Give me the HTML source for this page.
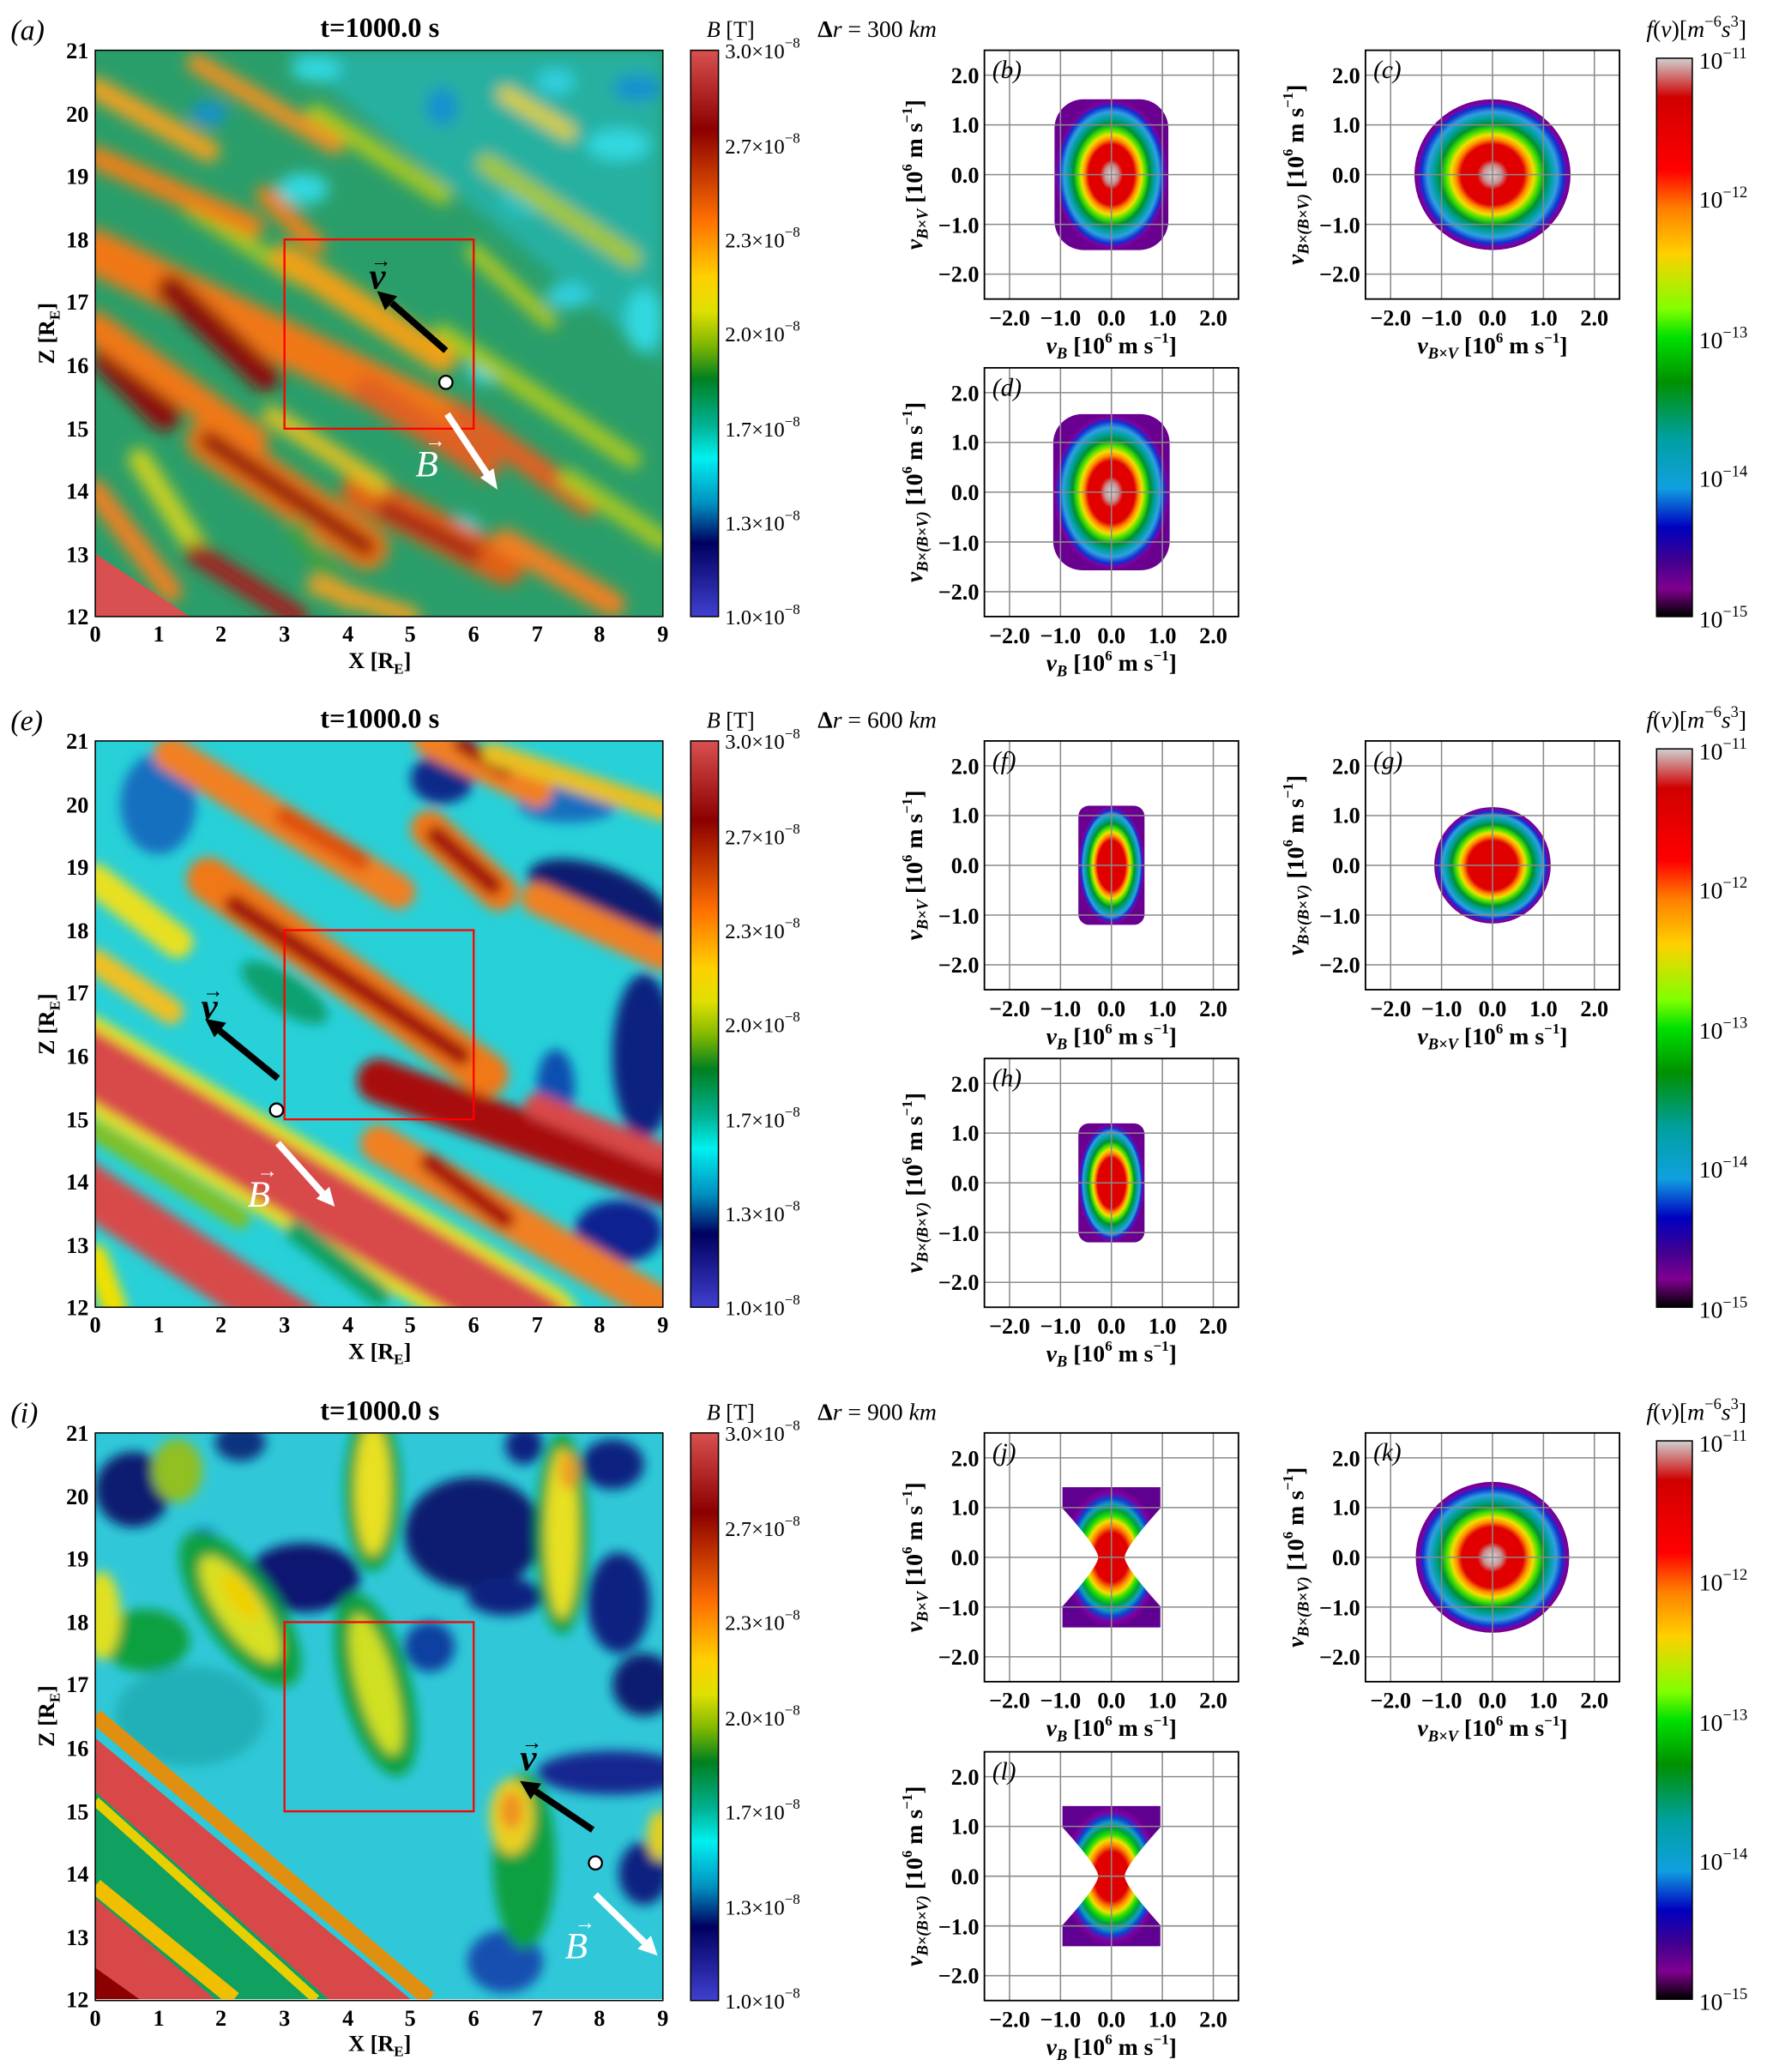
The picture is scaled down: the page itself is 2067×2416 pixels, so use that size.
<!DOCTYPE html>
<html><head><meta charset="utf-8"><style>html,body{margin:0;padding:0;background:#fff}svg{display:block}text{font-family:"Liberation Serif",serif;fill:#000}</style></head><body>
<svg width="2067" height="2416" viewBox="0 0 1340 1566" preserveAspectRatio="none" xmlns="http://www.w3.org/2000/svg">
<defs>
<filter id="bl" x="-10%" y="-10%" width="120%" height="120%"><feGaussianBlur stdDeviation="0.12"/></filter>
<filter id="bl2" x="-10%" y="-10%" width="120%" height="120%"><feGaussianBlur stdDeviation="0.09"/></filter>
<clipPath id="cp"><rect x="0" y="0" width="9" height="9"/></clipPath>
<linearGradient id="cbB" x1="0" y1="0" x2="0" y2="1">
<stop offset="0" stop-color="#d95050"/><stop offset="0.14" stop-color="#8b0000"/><stop offset="0.3" stop-color="#ff7000"/><stop offset="0.4" stop-color="#ffd000"/><stop offset="0.46" stop-color="#e0e000"/><stop offset="0.52" stop-color="#80b800"/><stop offset="0.58" stop-color="#008020"/><stop offset="0.66" stop-color="#00b090"/><stop offset="0.72" stop-color="#00f0f0"/><stop offset="0.8" stop-color="#0090c0"/><stop offset="0.87" stop-color="#000060"/><stop offset="1" stop-color="#4040d0"/></linearGradient>
<linearGradient id="cbF" x1="0" y1="0" x2="0" y2="1">
<stop offset="0" stop-color="#d0d0d0"/><stop offset="0.07" stop-color="#d00000"/><stop offset="0.2" stop-color="#ff0000"/><stop offset="0.27" stop-color="#ff8000"/><stop offset="0.35" stop-color="#ffd000"/><stop offset="0.45" stop-color="#80ff00"/><stop offset="0.5" stop-color="#00e000"/><stop offset="0.58" stop-color="#009000"/><stop offset="0.68" stop-color="#00a0a0"/><stop offset="0.77" stop-color="#10a0e0"/><stop offset="0.84" stop-color="#0000c0"/><stop offset="0.9" stop-color="#400090"/><stop offset="0.95" stop-color="#800090"/><stop offset="1" stop-color="#000000"/></linearGradient>
<radialGradient id="gA"><stop offset="0" stop-color="#d8d8d8"/><stop offset="0.12" stop-color="#c89090"/><stop offset="0.2" stop-color="#e00000"/><stop offset="0.4" stop-color="#e00000"/><stop offset="0.47" stop-color="#ff9000"/><stop offset="0.53" stop-color="#f0e000"/><stop offset="0.6" stop-color="#40e000"/><stop offset="0.67" stop-color="#009030"/><stop offset="0.75" stop-color="#00a0a0"/><stop offset="0.83" stop-color="#30a0e0"/><stop offset="0.91" stop-color="#1030d0"/><stop offset="0.96" stop-color="#8000a0"/><stop offset="1" stop-color="#6a0090"/></radialGradient>
<radialGradient id="gB"><stop offset="0" stop-color="#e00000"/><stop offset="0.42" stop-color="#e00000"/><stop offset="0.5" stop-color="#ff9000"/><stop offset="0.56" stop-color="#f0e000"/><stop offset="0.63" stop-color="#40e000"/><stop offset="0.7" stop-color="#009030"/><stop offset="0.78" stop-color="#00a0a0"/><stop offset="0.86" stop-color="#30a0e0"/><stop offset="0.92" stop-color="#1030d0"/><stop offset="0.97" stop-color="#8000a0"/><stop offset="1" stop-color="#6a0090"/></radialGradient>
<radialGradient id="gH"><stop offset="0" stop-color="#e00000"/><stop offset="0.35" stop-color="#e00000"/><stop offset="0.45" stop-color="#ff9000"/><stop offset="0.52" stop-color="#f0e000"/><stop offset="0.6" stop-color="#20e000"/><stop offset="0.68" stop-color="#00a040"/><stop offset="0.76" stop-color="#10a0c0"/><stop offset="0.84" stop-color="#1040d0"/><stop offset="0.92" stop-color="#8000a0"/><stop offset="1" stop-color="#600090"/></radialGradient>
</defs>

<!-- ============ HEATMAP (a) ============ -->
<g transform="translate(72,38) scale(47.667,47.556)" clip-path="url(#cp)">
<rect x="0" y="0" width="9" height="9" fill="#2a9e6a"/>
<g filter="url(#bl)" stroke-linecap="round" fill="none">
<polygon points="3,0 9,0 9,5" fill="#28b0a0" stroke="none"/>
<g stroke="none">
<ellipse cx="1.8" cy="1.0" rx="0.3" ry="0.18" fill="#1890d0"/>
<ellipse cx="5.5" cy="0.9" rx="0.25" ry="0.3" fill="#1890d0"/>
<ellipse cx="7.3" cy="0.5" rx="0.3" ry="0.2" fill="#30d0e0"/>
<ellipse cx="8.3" cy="1.5" rx="0.5" ry="0.25" fill="#30d8e0"/>
<ellipse cx="8.6" cy="0.6" rx="0.4" ry="0.2" fill="#1890d0"/>
<ellipse cx="6.2" cy="5.1" rx="0.3" ry="0.2" fill="#30d8e0"/>
<ellipse cx="3.5" cy="0.3" rx="0.4" ry="0.2" fill="#30d8e0"/>
<ellipse cx="7.5" cy="3.9" rx="0.35" ry="0.2" fill="#30d0e0"/>
<ellipse cx="8.7" cy="4.3" rx="0.3" ry="0.5" fill="#30d8e0"/>
<ellipse cx="5.8" cy="7.6" rx="0.3" ry="0.2" fill="#30d0e0"/>
<ellipse cx="3.3" cy="2.2" rx="0.4" ry="0.25" fill="#30d8e0"/>
<ellipse cx="6.8" cy="2.4" rx="0.4" ry="0.25" fill="#28c0c0"/>
</g>
<line x1="3.5" y1="1" x2="5.5" y2="2.3" stroke="#a8c820" stroke-width="0.3"/>
<line x1="6.2" y1="1.8" x2="8.5" y2="3.3" stroke="#a8c820" stroke-width="0.3"/>
<line x1="5.5" y1="4.5" x2="8.5" y2="6.5" stroke="#a8c820" stroke-width="0.3"/>
<line x1="1.5" y1="2.5" x2="3.2" y2="3.6" stroke="#a8c820" stroke-width="0.25"/>
<line x1="6" y1="3.2" x2="7.2" y2="4.3" stroke="#b0c820" stroke-width="0.25"/>
<line x1="0" y1="0.6" x2="1.8" y2="1.6" stroke="#f0a020" stroke-width="0.35"/>
<line x1="1.6" y1="0.2" x2="3.8" y2="1.5" stroke="#f09020" stroke-width="0.3"/>
<line x1="0" y1="1.7" x2="2.5" y2="2.8" stroke="#f08018" stroke-width="0.35"/>
<line x1="2.7" y1="2.3" x2="3.5" y2="3.1" stroke="#f08018" stroke-width="0.3"/>
<line x1="0" y1="3.2" x2="5.6" y2="5.9" stroke="#f07818" stroke-width="0.7"/>
<line x1="3.0" y1="3.3" x2="5.5" y2="4.9" stroke="#f0a018" stroke-width="0.45"/>
<line x1="6.5" y1="0.7" x2="7.5" y2="1.3" stroke="#e0d020" stroke-width="0.25"/>
<line x1="1.2" y1="3.8" x2="2.7" y2="5.2" stroke="#8b1010" stroke-width="0.45"/>
<line x1="0.2" y1="4.9" x2="1.1" y2="5.8" stroke="#8b1010" stroke-width="0.5"/>
<line x1="0" y1="4.4" x2="2.5" y2="6.2" stroke="#f07818" stroke-width="0.5"/>
<line x1="1.8" y1="6.2" x2="4.3" y2="7.9" stroke="#f07818" stroke-width="0.7"/>
<line x1="1.8" y1="6.2" x2="4.3" y2="7.9" stroke="#901010" stroke-width="0.3"/>
<line x1="4.2" y1="7.0" x2="6.5" y2="8.2" stroke="#e06018" stroke-width="0.6"/>
<line x1="4.6" y1="7.3" x2="6.0" y2="8.0" stroke="#a01818" stroke-width="0.25"/>
<line x1="0.7" y1="6.5" x2="1.6" y2="7.9" stroke="#c8d020" stroke-width="0.35"/>
<line x1="2.8" y1="5.8" x2="4.5" y2="6.9" stroke="#e0c020" stroke-width="0.3"/>
<line x1="3.2" y1="7.6" x2="4.0" y2="8.8" stroke="#40a040" stroke-width="0.3"/>
<line x1="0" y1="7.0" x2="1.2" y2="8.6" stroke="#f08020" stroke-width="0.35"/>
<line x1="1.6" y1="8.0" x2="3.2" y2="9" stroke="#a02020" stroke-width="0.35"/>
<line x1="4.3" y1="5.4" x2="6.2" y2="6.6" stroke="#e06020" stroke-width="0.45"/>
<line x1="5.8" y1="5.8" x2="7.8" y2="7.2" stroke="#e06020" stroke-width="0.4"/>
<line x1="6.5" y1="7.8" x2="8.2" y2="8.8" stroke="#f08020" stroke-width="0.4"/>
<line x1="7.5" y1="6.8" x2="9" y2="7.8" stroke="#a8c820" stroke-width="0.3"/>
<line x1="3.5" y1="8.5" x2="5" y2="9" stroke="#f0a020" stroke-width="0.3"/>
</g>
<polygon points="0,8 0,9 1.5,9" fill="#d85050"/>
</g>
<rect x="72" y="38" width="429" height="428" fill="none" stroke="#000" stroke-width="1"/>

<!-- ============ HEATMAP (e) ============ -->
<g transform="translate(72,560) scale(47.667,47.556)" clip-path="url(#cp)">
<rect x="0" y="0" width="9" height="9" fill="#28d0d8"/>
<g filter="url(#bl2)" stroke-linecap="round" fill="none">
<g stroke="none">
<ellipse cx="1.0" cy="1.0" rx="0.6" ry="0.8" fill="#1870c0"/>
<ellipse cx="5.5" cy="0.6" rx="0.5" ry="0.4" fill="#0a2a8a"/>
<ellipse cx="8" cy="2.5" rx="1.2" ry="0.5" fill="#0a1a70" transform="rotate(20 8 2.5)"/>
<ellipse cx="7.3" cy="5.5" rx="0.3" ry="0.6" fill="#1050b0"/>
<ellipse cx="8.7" cy="5.0" rx="0.5" ry="1.3" fill="#0a2080"/>
<ellipse cx="8.3" cy="7.8" rx="0.7" ry="0.5" fill="#102090"/>
<ellipse cx="7.5" cy="1" rx="0.8" ry="0.3" fill="#1870c0"/>
<ellipse cx="6.5" cy="8.6" rx="0.5" ry="0.35" fill="#1870c0"/>
<ellipse cx="3" cy="4" rx="0.8" ry="0.3" fill="#10a070" transform="rotate(33 3 4)"/>
</g>
<line x1="1.2" y1="0.2" x2="4.8" y2="2.4" stroke="#f08020" stroke-width="0.55"/>
<line x1="3" y1="1.2" x2="4.2" y2="1.9" stroke="#e05010" stroke-width="0.3"/>
<line x1="1.8" y1="2.2" x2="6.2" y2="5.3" stroke="#f07818" stroke-width="0.7"/>
<line x1="2.2" y1="2.6" x2="5.8" y2="5.0" stroke="#a00808" stroke-width="0.3"/>
<line x1="5.3" y1="0" x2="7" y2="0.8" stroke="#f08020" stroke-width="0.5"/>
<line x1="5.8" y1="0.05" x2="6.5" y2="0.45" stroke="#a00808" stroke-width="0.25"/>
<line x1="5.3" y1="1.4" x2="6.4" y2="2.4" stroke="#f07818" stroke-width="0.6"/>
<line x1="5.4" y1="1.5" x2="6.3" y2="2.3" stroke="#a00808" stroke-width="0.3"/>
<line x1="7" y1="2.5" x2="9" y2="3.4" stroke="#f08020" stroke-width="0.5"/>
<line x1="6.3" y1="0.2" x2="9" y2="1.1" stroke="#e8c020" stroke-width="0.35"/>
<line x1="0" y1="2.2" x2="1.3" y2="3.2" stroke="#e8e020" stroke-width="0.5"/>
<line x1="0" y1="3.5" x2="1.2" y2="4.3" stroke="#f0c020" stroke-width="0.4"/>
<line x1="-0.3" y1="5.0" x2="7" y2="9.3" stroke="#e8e020" stroke-width="1.4"/>
<line x1="-0.3" y1="5.0" x2="7" y2="9.3" stroke="#d84848" stroke-width="1.0"/>
<line x1="-0.3" y1="7.0" x2="3.2" y2="9.3" stroke="#d84848" stroke-width="0.8"/>
<line x1="4.5" y1="5.4" x2="9.5" y2="7.2" stroke="#a81010" stroke-width="0.7"/>
<line x1="7" y1="5.8" x2="9" y2="6.6" stroke="#d84848" stroke-width="0.4"/>
<line x1="4.5" y1="6.4" x2="9" y2="9" stroke="#f08020" stroke-width="0.6"/>
<line x1="5.3" y1="6.7" x2="6.5" y2="7.6" stroke="#a81010" stroke-width="0.3"/>
<line x1="0" y1="6.2" x2="2.3" y2="7.6" stroke="#80c020" stroke-width="0.3"/>
<line x1="3.2" y1="7.8" x2="4.5" y2="8.8" stroke="#10a060" stroke-width="0.35"/>
<line x1="0" y1="8.2" x2="0.3" y2="9" stroke="#f0e000" stroke-width="0.4"/>
</g>
</g>
<rect x="72" y="560" width="429" height="428" fill="none" stroke="#000" stroke-width="1"/>

<!-- ============ HEATMAP (i) ============ -->
<g transform="translate(72,1083) scale(47.667,47.556)" clip-path="url(#cp)">
<rect x="0" y="0" width="9" height="9" fill="#30c8d8"/>
<g filter="url(#bl2)" stroke="none">
<ellipse cx="1.5" cy="4.5" rx="1.2" ry="0.8" fill="#20b0b8"/>
<ellipse cx="0.6" cy="0.9" rx="0.6" ry="0.6" fill="#0a1a70"/>
<ellipse cx="2.3" cy="0.15" rx="0.4" ry="0.3" fill="#103080"/>
<ellipse cx="3.3" cy="2.3" rx="0.9" ry="0.55" fill="#0a1870"/>
<ellipse cx="6.0" cy="1.6" rx="1.1" ry="0.9" fill="#0a1a70"/>
<ellipse cx="6.8" cy="0.2" rx="0.3" ry="0.3" fill="#102080"/>
<ellipse cx="8.2" cy="0.5" rx="0.5" ry="0.4" fill="#102080"/>
<ellipse cx="8.3" cy="2.7" rx="0.5" ry="0.8" fill="#102080"/>
<ellipse cx="8.7" cy="4.0" rx="0.5" ry="0.5" fill="#0a1a70"/>
<ellipse cx="8.2" cy="5.4" rx="1.2" ry="0.35" fill="#182890"/>
<ellipse cx="6.5" cy="2.6" rx="0.6" ry="0.3" fill="#102080"/>
<ellipse cx="5.3" cy="3.4" rx="0.4" ry="0.4" fill="#1040a0"/>
<ellipse cx="8.7" cy="7.0" rx="0.4" ry="0.5" fill="#102080"/>
<ellipse cx="6.5" cy="8.4" rx="0.6" ry="0.5" fill="#1850b0"/>
<ellipse cx="1.7" cy="1.8" rx="0.3" ry="0.3" fill="#1870c0"/>
<ellipse cx="0.8" cy="3.3" rx="0.7" ry="0.5" fill="#10a040"/>
<ellipse cx="2.3" cy="2.8" rx="0.6" ry="1.45" fill="#10a040" transform="rotate(-35 2.3 2.8)"/>
<ellipse cx="2.3" cy="2.8" rx="0.35" ry="1.0" fill="#d8e020" transform="rotate(-35 2.3 2.8)"/>
<ellipse cx="2.3" cy="2.6" rx="0.18" ry="0.45" fill="#f0d000" transform="rotate(-35 2.3 2.6)"/>
<ellipse cx="4.45" cy="4.0" rx="0.55" ry="1.5" fill="#10a040" transform="rotate(-15 4.45 4)"/>
<ellipse cx="4.45" cy="4.0" rx="0.3" ry="1.15" fill="#d0e020" transform="rotate(-15 4.45 4)"/>
<ellipse cx="4.4" cy="0.9" rx="0.45" ry="1.3" fill="#10a040"/>
<ellipse cx="4.4" cy="0.9" rx="0.28" ry="1.05" fill="#e8e020"/>
<ellipse cx="7.4" cy="1.6" rx="0.42" ry="1.6" fill="#10a040"/>
<ellipse cx="7.4" cy="1.6" rx="0.26" ry="1.35" fill="#e8e020"/>
<ellipse cx="7.5" cy="0.6" rx="0.15" ry="0.3" fill="#f0a020"/>
<ellipse cx="6.8" cy="6.8" rx="0.5" ry="1.4" fill="#10a040"/>
<ellipse cx="6.6" cy="6.1" rx="0.35" ry="0.6" fill="#e8d020"/>
<ellipse cx="6.6" cy="6.0" rx="0.18" ry="0.3" fill="#f09020"/>
<ellipse cx="0.1" cy="2.9" rx="0.3" ry="0.7" fill="#e0e020"/>
<ellipse cx="1.3" cy="0.6" rx="0.4" ry="0.5" fill="#90c020"/>
<ellipse cx="8.95" cy="6.4" rx="0.2" ry="0.4" fill="#e0d020"/>
</g>
<polygon points="0,5.7 3.7,9 0,9" fill="#10a060"/>
<line x1="0" y1="4.5" x2="5.3" y2="9" stroke="#e09010" stroke-width="0.25"/>
<polygon points="0,4.85 5.0,9 3.7,9 0,5.7" fill="#d84848"/>
<line x1="0" y1="5.85" x2="3.5" y2="9" stroke="#e8d000" stroke-width="0.15"/>
<line x1="0" y1="7.2" x2="2.2" y2="9" stroke="#f0c000" stroke-width="0.25"/>
<polygon points="0,7.4 0,9 1.9,9" fill="#d84848"/>
<polygon points="0,8.5 0,9 0.7,9" fill="#8b0000"/>
</g>
<rect x="72" y="1083" width="429" height="429" fill="none" stroke="#000" stroke-width="1"/>

<!-- red boxes, arrows -->
<g fill="none" stroke="#ff0000" stroke-width="1.5">
<rect x="215" y="181" width="143" height="143"/>
<rect x="215" y="703" width="143" height="143"/>
<rect x="215" y="1226" width="143" height="143"/>
</g>
<g stroke-width="5">
<line x1="337" y1="265" x2="296" y2="229" stroke="#000"/>
<polygon points="285,220 300.2,223.9 291,234.5" fill="#000"/>
<line x1="338" y1="313" x2="368" y2="358" stroke="#fff"/>
<polygon points="376,370 363,361 373,354" fill="#fff" stroke="none"/>
<line x1="210" y1="815" x2="166" y2="779" stroke="#000"/>
<polygon points="155,770 171,773 162,784" fill="#000" stroke="none"/>
<line x1="210" y1="864" x2="244" y2="902" stroke="#fff"/>
<polygon points="253,912 239,906 249,897" fill="#fff" stroke="none"/>
<line x1="448" y1="1383" x2="405" y2="1354" stroke="#000"/>
<polygon points="393,1346 409,1348 401,1360" fill="#000" stroke="none"/>
<line x1="450" y1="1432" x2="487" y2="1468" stroke="#fff"/>
<polygon points="497,1478 482,1473 492,1463" fill="#fff" stroke="none"/>
</g>
<g fill="#fff" stroke="#000" stroke-width="1.5">
<circle cx="337" cy="289" r="5"/><circle cx="209" cy="839" r="5"/><circle cx="450" cy="1408" r="5"/>
</g>
<g font-size="28" font-style="italic" font-weight="bold">
<text x="279" y="218">v</text><text x="280" y="202" font-size="16" font-style="normal">→</text>
<text x="152" y="770">v</text><text x="153" y="754" font-size="16" font-style="normal">→</text>
<text x="393" y="1338">v</text><text x="394" y="1322" font-size="16" font-style="normal">→</text>
<text x="314" y="360" style="fill:#fff" font-weight="normal">B</text><text x="321" y="338" font-size="16" font-style="normal" style="fill:#fff">→</text>
<text x="187" y="912" style="fill:#fff" font-weight="normal">B</text><text x="194" y="890" font-size="16" font-style="normal" style="fill:#fff">→</text>
<text x="427" y="1480" style="fill:#fff" font-weight="normal">B</text><text x="434" y="1458" font-size="16" font-style="normal" style="fill:#fff">→</text>
</g>

<!-- big-panel axes text -->
<g font-size="18" font-weight="bold">
<text x="8" y="30" font-size="22" font-style="italic" font-weight="normal">(a)</text>
<text x="8" y="552" font-size="22" font-style="italic" font-weight="normal">(e)</text>
<text x="8" y="1075" font-size="22" font-style="italic" font-weight="normal">(i)</text>
<text x="287" y="28" text-anchor="middle" font-size="21">t=1000.0 s</text>
<text x="287" y="550" text-anchor="middle" font-size="21">t=1000.0 s</text>
<text x="287" y="1073" text-anchor="middle" font-size="21">t=1000.0 s</text>
</g>
<g font-size="17" font-weight="bold" text-anchor="end">
<text x="67" y="44">21</text><text x="67" y="92">20</text><text x="67" y="139">19</text><text x="67" y="187">18</text><text x="67" y="234">17</text><text x="67" y="282">16</text><text x="67" y="330">15</text><text x="67" y="377">14</text><text x="67" y="425">13</text><text x="67" y="472">12</text>
<text x="67" y="566">21</text><text x="67" y="614">20</text><text x="67" y="661">19</text><text x="67" y="709">18</text><text x="67" y="756">17</text><text x="67" y="804">16</text><text x="67" y="852">15</text><text x="67" y="899">14</text><text x="67" y="947">13</text><text x="67" y="994">12</text>
<text x="67" y="1089">21</text><text x="67" y="1137">20</text><text x="67" y="1184">19</text><text x="67" y="1232">18</text><text x="67" y="1279">17</text><text x="67" y="1327">16</text><text x="67" y="1375">15</text><text x="67" y="1422">14</text><text x="67" y="1470">13</text><text x="67" y="1517">12</text>
</g>
<g font-size="17" font-weight="bold" text-anchor="middle">
<text x="72" y="485">0</text><text x="120" y="485">1</text><text x="167" y="485">2</text><text x="215" y="485">3</text><text x="263" y="485">4</text><text x="310" y="485">5</text><text x="358" y="485">6</text><text x="406" y="485">7</text><text x="453" y="485">8</text><text x="501" y="485">9</text>
<text x="72" y="1007">0</text><text x="120" y="1007">1</text><text x="167" y="1007">2</text><text x="215" y="1007">3</text><text x="263" y="1007">4</text><text x="310" y="1007">5</text><text x="358" y="1007">6</text><text x="406" y="1007">7</text><text x="453" y="1007">8</text><text x="501" y="1007">9</text>
<text x="72" y="1531">0</text><text x="120" y="1531">1</text><text x="167" y="1531">2</text><text x="215" y="1531">3</text><text x="263" y="1531">4</text><text x="310" y="1531">5</text><text x="358" y="1531">6</text><text x="406" y="1531">7</text><text x="453" y="1531">8</text><text x="501" y="1531">9</text>
<text x="287" y="505">X [R<tspan font-size="11" dy="4">E</tspan><tspan dy="-4">]</tspan></text>
<text x="287" y="1027">X [R<tspan font-size="11" dy="4">E</tspan><tspan dy="-4">]</tspan></text>
<text x="287" y="1550">X [R<tspan font-size="11" dy="4">E</tspan><tspan dy="-4">]</tspan></text>
<text transform="translate(41,252) rotate(-90)">Z [R<tspan font-size="11" dy="4">E</tspan><tspan dy="-4">]</tspan></text>
<text transform="translate(41,774) rotate(-90)">Z [R<tspan font-size="11" dy="4">E</tspan><tspan dy="-4">]</tspan></text>
<text transform="translate(41,1297) rotate(-90)">Z [R<tspan font-size="11" dy="4">E</tspan><tspan dy="-4">]</tspan></text>
</g>

<!-- B colorbars -->
<rect x="522" y="38" width="21" height="428" fill="url(#cbB)" stroke="#000" stroke-width="1"/>
<rect x="522" y="560" width="21" height="428" fill="url(#cbB)" stroke="#000" stroke-width="1"/>
<rect x="522" y="1083" width="21" height="429" fill="url(#cbB)" stroke="#000" stroke-width="1"/>
<g font-size="17">
<text x="534" y="28"><tspan font-style="italic">B</tspan> [T]</text>
<text x="534" y="550"><tspan font-style="italic">B</tspan> [T]</text>
<text x="534" y="1073"><tspan font-style="italic">B</tspan> [T]</text>
<text x="618" y="28" font-size="18"><tspan font-weight="bold">Δ</tspan><tspan font-style="italic">r</tspan> = 300 <tspan font-style="italic">km</tspan></text>
<text x="618" y="550" font-size="18"><tspan font-weight="bold">Δ</tspan><tspan font-style="italic">r</tspan> = 600 <tspan font-style="italic">km</tspan></text>
<text x="618" y="1073" font-size="18"><tspan font-weight="bold">Δ</tspan><tspan font-style="italic">r</tspan> = 900 <tspan font-style="italic">km</tspan></text>
</g>
<g font-size="16">
<text x="548" y="44">3.0×10<tspan font-size="11" dy="-8">−8</tspan></text>
<text x="548" y="116">2.7×10<tspan font-size="11" dy="-8">−8</tspan></text>
<text x="548" y="187">2.3×10<tspan font-size="11" dy="-8">−8</tspan></text>
<text x="548" y="258">2.0×10<tspan font-size="11" dy="-8">−8</tspan></text>
<text x="548" y="330">1.7×10<tspan font-size="11" dy="-8">−8</tspan></text>
<text x="548" y="401">1.3×10<tspan font-size="11" dy="-8">−8</tspan></text>
<text x="548" y="472">1.0×10<tspan font-size="11" dy="-8">−8</tspan></text>
<text x="548" y="566">3.0×10<tspan font-size="11" dy="-8">−8</tspan></text>
<text x="548" y="638">2.7×10<tspan font-size="11" dy="-8">−8</tspan></text>
<text x="548" y="709">2.3×10<tspan font-size="11" dy="-8">−8</tspan></text>
<text x="548" y="780">2.0×10<tspan font-size="11" dy="-8">−8</tspan></text>
<text x="548" y="852">1.7×10<tspan font-size="11" dy="-8">−8</tspan></text>
<text x="548" y="923">1.3×10<tspan font-size="11" dy="-8">−8</tspan></text>
<text x="548" y="994">1.0×10<tspan font-size="11" dy="-8">−8</tspan></text>
<text x="548" y="1089">3.0×10<tspan font-size="11" dy="-8">−8</tspan></text>
<text x="548" y="1161">2.7×10<tspan font-size="11" dy="-8">−8</tspan></text>
<text x="548" y="1232">2.3×10<tspan font-size="11" dy="-8">−8</tspan></text>
<text x="548" y="1304">2.0×10<tspan font-size="11" dy="-8">−8</tspan></text>
<text x="548" y="1375">1.7×10<tspan font-size="11" dy="-8">−8</tspan></text>
<text x="548" y="1447">1.3×10<tspan font-size="11" dy="-8">−8</tspan></text>
<text x="548" y="1518">1.0×10<tspan font-size="11" dy="-8">−8</tspan></text>
</g>

<!-- f colorbars -->
<rect x="1252" y="44" width="27" height="422" fill="url(#cbF)" stroke="#000" stroke-width="1"/>
<rect x="1252" y="566" width="27" height="422" fill="url(#cbF)" stroke="#000" stroke-width="1"/>
<rect x="1252" y="1089" width="27" height="422" fill="url(#cbF)" stroke="#000" stroke-width="1"/>
<g font-size="18">
<text x="1320" y="28" text-anchor="end"><tspan font-style="italic">f</tspan>(<tspan font-style="italic">v</tspan>)[<tspan font-style="italic">m</tspan><tspan font-size="12" dy="-8">−6</tspan><tspan dy="8" font-style="italic">s</tspan><tspan font-size="12" dy="-8">3</tspan><tspan dy="8">]</tspan></text>
<text x="1320" y="550" text-anchor="end"><tspan font-style="italic">f</tspan>(<tspan font-style="italic">v</tspan>)[<tspan font-style="italic">m</tspan><tspan font-size="12" dy="-8">−6</tspan><tspan dy="8" font-style="italic">s</tspan><tspan font-size="12" dy="-8">3</tspan><tspan dy="8">]</tspan></text>
<text x="1320" y="1073" text-anchor="end"><tspan font-style="italic">f</tspan>(<tspan font-style="italic">v</tspan>)[<tspan font-style="italic">m</tspan><tspan font-size="12" dy="-8">−6</tspan><tspan dy="8" font-style="italic">s</tspan><tspan font-size="12" dy="-8">3</tspan><tspan dy="8">]</tspan></text>
<text x="1284" y="52">10<tspan font-size="12" dy="-8">−11</tspan></text>
<text x="1284" y="157">10<tspan font-size="12" dy="-8">−12</tspan></text>
<text x="1284" y="263">10<tspan font-size="12" dy="-8">−13</tspan></text>
<text x="1284" y="368">10<tspan font-size="12" dy="-8">−14</tspan></text>
<text x="1284" y="474">10<tspan font-size="12" dy="-8">−15</tspan></text>
<text x="1284" y="574">10<tspan font-size="12" dy="-8">−11</tspan></text>
<text x="1284" y="679">10<tspan font-size="12" dy="-8">−12</tspan></text>
<text x="1284" y="785">10<tspan font-size="12" dy="-8">−13</tspan></text>
<text x="1284" y="890">10<tspan font-size="12" dy="-8">−14</tspan></text>
<text x="1284" y="996">10<tspan font-size="12" dy="-8">−15</tspan></text>
<text x="1284" y="1097">10<tspan font-size="12" dy="-8">−11</tspan></text>
<text x="1284" y="1202">10<tspan font-size="12" dy="-8">−12</tspan></text>
<text x="1284" y="1308">10<tspan font-size="12" dy="-8">−13</tspan></text>
<text x="1284" y="1413">10<tspan font-size="12" dy="-8">−14</tspan></text>
<text x="1284" y="1519">10<tspan font-size="12" dy="-8">−15</tspan></text>
</g>

<!-- ============ small panels: blobs ============ -->
<rect x="797" y="75" width="86" height="114" rx="22" fill="url(#gA)"/>
<ellipse cx="1128" cy="132" rx="59" ry="57" fill="url(#gA)"/>
<rect x="796" y="313" width="88" height="118" rx="22" fill="url(#gA)"/>
<rect x="815" y="609" width="50" height="90" rx="8" fill="url(#gB)"/>
<ellipse cx="1128" cy="654" rx="44" ry="44" fill="url(#gB)"/>
<rect x="815" y="849" width="50" height="90" rx="8" fill="url(#gB)"/>
<path d="M803,1124 L877,1124 L877,1140 Q850,1170 850,1177 Q850,1184 877,1214 L877,1230 L803,1230 L803,1214 Q830,1184 830,1177 Q830,1170 803,1140 Z" fill="url(#gH)"/>
<ellipse cx="1128" cy="1177" rx="58" ry="57" fill="url(#gA)"/>
<path d="M803,1365 L877,1365 L877,1381 Q850,1411 850,1418 Q850,1425 877,1455 L877,1471 L803,1471 L803,1455 Q830,1425 830,1418 Q830,1411 803,1381 Z" fill="url(#gH)"/>

<!-- grids & frames -->
<g stroke="#8a8a8a" stroke-width="1" fill="none">
<path d="M763,38V226M801.5,38V226M840,38V226M878.5,38V226M917,38V226M744,56.8H936M744,94.4H936M744,132H936M744,169.6H936M744,207.2H936"/>
<path d="M1051,38V226M1089.5,38V226M1128,38V226M1166.5,38V226M1205,38V226M1032,56.8H1224M1032,94.4H1224M1032,132H1224M1032,169.6H1224M1032,207.2H1224"/>
<path d="M763,278V466M801.5,278V466M840,278V466M878.5,278V466M917,278V466M744,296.8H936M744,334.4H936M744,372H936M744,409.6H936M744,447.2H936"/>
<path d="M763,560V748M801.5,560V748M840,560V748M878.5,560V748M917,560V748M744,578.8H936M744,616.4H936M744,654H936M744,691.6H936M744,729.2H936"/>
<path d="M1051,560V748M1089.5,560V748M1128,560V748M1166.5,560V748M1205,560V748M1032,578.8H1224M1032,616.4H1224M1032,654H1224M1032,691.6H1224M1032,729.2H1224"/>
<path d="M763,800V988M801.5,800V988M840,800V988M878.5,800V988M917,800V988M744,818.8H936M744,856.4H936M744,894H936M744,931.6H936M744,969.2H936"/>
<path d="M763,1083V1271M801.5,1083V1271M840,1083V1271M878.5,1083V1271M917,1083V1271M744,1101.8H936M744,1139.4H936M744,1177H936M744,1214.6H936M744,1252.2H936"/>
<path d="M1051,1083V1271M1089.5,1083V1271M1128,1083V1271M1166.5,1083V1271M1205,1083V1271M1032,1101.8H1224M1032,1139.4H1224M1032,1177H1224M1032,1214.6H1224M1032,1252.2H1224"/>
<path d="M763,1324V1512M801.5,1324V1512M840,1324V1512M878.5,1324V1512M917,1324V1512M744,1342.8H936M744,1380.4H936M744,1418H936M744,1455.6H936M744,1493.2H936"/>
</g>
<g stroke="#000" stroke-width="1.2" fill="none">
<rect x="744" y="38" width="192" height="188"/><rect x="1032" y="38" width="192" height="188"/><rect x="744" y="278" width="192" height="188"/>
<rect x="744" y="560" width="192" height="188"/><rect x="1032" y="560" width="192" height="188"/><rect x="744" y="800" width="192" height="188"/>
<rect x="744" y="1083" width="192" height="188"/><rect x="1032" y="1083" width="192" height="188"/><rect x="744" y="1324" width="192" height="188"/>
</g>

<!-- small panel labels -->
<g font-size="19" font-style="italic">
<text x="750" y="59">(b)</text><text x="1038" y="59">(c)</text><text x="750" y="299">(d)</text>
<text x="750" y="581">(f)</text><text x="1038" y="581">(g)</text><text x="750" y="821">(h)</text>
<text x="750" y="1104">(j)</text><text x="1038" y="1104">(k)</text><text x="750" y="1345">(l)</text>
</g>
<g font-size="17" font-weight="bold" text-anchor="end">
<text x="740" y="63">2.0</text><text x="740" y="100">1.0</text><text x="740" y="138">0.0</text><text x="740" y="176">−1.0</text><text x="740" y="213">−2.0</text>
<text x="1028" y="63">2.0</text><text x="1028" y="100">1.0</text><text x="1028" y="138">0.0</text><text x="1028" y="176">−1.0</text><text x="1028" y="213">−2.0</text>
<text x="740" y="303">2.0</text><text x="740" y="340">1.0</text><text x="740" y="378">0.0</text><text x="740" y="416">−1.0</text><text x="740" y="453">−2.0</text>
<text x="740" y="585">2.0</text><text x="740" y="622">1.0</text><text x="740" y="660">0.0</text><text x="740" y="698">−1.0</text><text x="740" y="735">−2.0</text>
<text x="1028" y="585">2.0</text><text x="1028" y="622">1.0</text><text x="1028" y="660">0.0</text><text x="1028" y="698">−1.0</text><text x="1028" y="735">−2.0</text>
<text x="740" y="825">2.0</text><text x="740" y="862">1.0</text><text x="740" y="900">0.0</text><text x="740" y="938">−1.0</text><text x="740" y="975">−2.0</text>
<text x="740" y="1108">2.0</text><text x="740" y="1145">1.0</text><text x="740" y="1183">0.0</text><text x="740" y="1221">−1.0</text><text x="740" y="1258">−2.0</text>
<text x="1028" y="1108">2.0</text><text x="1028" y="1145">1.0</text><text x="1028" y="1183">0.0</text><text x="1028" y="1221">−1.0</text><text x="1028" y="1258">−2.0</text>
<text x="740" y="1349">2.0</text><text x="740" y="1386">1.0</text><text x="740" y="1424">0.0</text><text x="740" y="1462">−1.0</text><text x="740" y="1499">−2.0</text>
</g>
<g font-size="17" font-weight="bold" text-anchor="middle">
<text x="763" y="246">−2.0</text><text x="801.5" y="246">−1.0</text><text x="840" y="246">0.0</text><text x="878.5" y="246">1.0</text><text x="917" y="246">2.0</text>
<text x="1051" y="246">−2.0</text><text x="1089.5" y="246">−1.0</text><text x="1128" y="246">0.0</text><text x="1166.5" y="246">1.0</text><text x="1205" y="246">2.0</text>
<text x="763" y="486">−2.0</text><text x="801.5" y="486">−1.0</text><text x="840" y="486">0.0</text><text x="878.5" y="486">1.0</text><text x="917" y="486">2.0</text>
<text x="763" y="768">−2.0</text><text x="801.5" y="768">−1.0</text><text x="840" y="768">0.0</text><text x="878.5" y="768">1.0</text><text x="917" y="768">2.0</text>
<text x="1051" y="768">−2.0</text><text x="1089.5" y="768">−1.0</text><text x="1128" y="768">0.0</text><text x="1166.5" y="768">1.0</text><text x="1205" y="768">2.0</text>
<text x="763" y="1008">−2.0</text><text x="801.5" y="1008">−1.0</text><text x="840" y="1008">0.0</text><text x="878.5" y="1008">1.0</text><text x="917" y="1008">2.0</text>
<text x="763" y="1291">−2.0</text><text x="801.5" y="1291">−1.0</text><text x="840" y="1291">0.0</text><text x="878.5" y="1291">1.0</text><text x="917" y="1291">2.0</text>
<text x="1051" y="1291">−2.0</text><text x="1089.5" y="1291">−1.0</text><text x="1128" y="1291">0.0</text><text x="1166.5" y="1291">1.0</text><text x="1205" y="1291">2.0</text>
<text x="763" y="1532">−2.0</text><text x="801.5" y="1532">−1.0</text><text x="840" y="1532">0.0</text><text x="878.5" y="1532">1.0</text><text x="917" y="1532">2.0</text>
</g>
<g font-size="18" font-weight="bold" text-anchor="middle">
<text x="840" y="267"><tspan font-style="italic">v</tspan><tspan font-size="12" dy="4" font-style="italic">B</tspan><tspan dy="-4"> [10</tspan><tspan font-size="11" dy="-8">6</tspan><tspan dy="8"> m s</tspan><tspan font-size="11" dy="-8">−1</tspan><tspan dy="8">]</tspan></text>
<text x="1128" y="267"><tspan font-style="italic">v</tspan><tspan font-size="12" dy="4" font-style="italic">B×V</tspan><tspan dy="-4"> [10</tspan><tspan font-size="11" dy="-8">6</tspan><tspan dy="8"> m s</tspan><tspan font-size="11" dy="-8">−1</tspan><tspan dy="8">]</tspan></text>
<text x="840" y="507"><tspan font-style="italic">v</tspan><tspan font-size="12" dy="4" font-style="italic">B</tspan><tspan dy="-4"> [10</tspan><tspan font-size="11" dy="-8">6</tspan><tspan dy="8"> m s</tspan><tspan font-size="11" dy="-8">−1</tspan><tspan dy="8">]</tspan></text>
<text x="840" y="789"><tspan font-style="italic">v</tspan><tspan font-size="12" dy="4" font-style="italic">B</tspan><tspan dy="-4"> [10</tspan><tspan font-size="11" dy="-8">6</tspan><tspan dy="8"> m s</tspan><tspan font-size="11" dy="-8">−1</tspan><tspan dy="8">]</tspan></text>
<text x="1128" y="789"><tspan font-style="italic">v</tspan><tspan font-size="12" dy="4" font-style="italic">B×V</tspan><tspan dy="-4"> [10</tspan><tspan font-size="11" dy="-8">6</tspan><tspan dy="8"> m s</tspan><tspan font-size="11" dy="-8">−1</tspan><tspan dy="8">]</tspan></text>
<text x="840" y="1029"><tspan font-style="italic">v</tspan><tspan font-size="12" dy="4" font-style="italic">B</tspan><tspan dy="-4"> [10</tspan><tspan font-size="11" dy="-8">6</tspan><tspan dy="8"> m s</tspan><tspan font-size="11" dy="-8">−1</tspan><tspan dy="8">]</tspan></text>
<text x="840" y="1312"><tspan font-style="italic">v</tspan><tspan font-size="12" dy="4" font-style="italic">B</tspan><tspan dy="-4"> [10</tspan><tspan font-size="11" dy="-8">6</tspan><tspan dy="8"> m s</tspan><tspan font-size="11" dy="-8">−1</tspan><tspan dy="8">]</tspan></text>
<text x="1128" y="1312"><tspan font-style="italic">v</tspan><tspan font-size="12" dy="4" font-style="italic">B×V</tspan><tspan dy="-4"> [10</tspan><tspan font-size="11" dy="-8">6</tspan><tspan dy="8"> m s</tspan><tspan font-size="11" dy="-8">−1</tspan><tspan dy="8">]</tspan></text>
<text x="840" y="1553"><tspan font-style="italic">v</tspan><tspan font-size="12" dy="4" font-style="italic">B</tspan><tspan dy="-4"> [10</tspan><tspan font-size="11" dy="-8">6</tspan><tspan dy="8"> m s</tspan><tspan font-size="11" dy="-8">−1</tspan><tspan dy="8">]</tspan></text>

<text transform="translate(697,132) rotate(-90)"><tspan font-style="italic">v</tspan><tspan font-size="12" dy="4" font-style="italic">B×V</tspan><tspan dy="-4"> [10</tspan><tspan font-size="11" dy="-8">6</tspan><tspan dy="8"> m s</tspan><tspan font-size="11" dy="-8">−1</tspan><tspan dy="8">]</tspan></text>
<text transform="translate(985,132) rotate(-90)"><tspan font-style="italic">v</tspan><tspan font-size="12" dy="4" font-style="italic">B×(B×V)</tspan><tspan dy="-4"> [10</tspan><tspan font-size="11" dy="-8">6</tspan><tspan dy="8"> m s</tspan><tspan font-size="11" dy="-8">−1</tspan><tspan dy="8">]</tspan></text>
<text transform="translate(697,372) rotate(-90)"><tspan font-style="italic">v</tspan><tspan font-size="12" dy="4" font-style="italic">B×(B×V)</tspan><tspan dy="-4"> [10</tspan><tspan font-size="11" dy="-8">6</tspan><tspan dy="8"> m s</tspan><tspan font-size="11" dy="-8">−1</tspan><tspan dy="8">]</tspan></text>
<text transform="translate(697,654) rotate(-90)"><tspan font-style="italic">v</tspan><tspan font-size="12" dy="4" font-style="italic">B×V</tspan><tspan dy="-4"> [10</tspan><tspan font-size="11" dy="-8">6</tspan><tspan dy="8"> m s</tspan><tspan font-size="11" dy="-8">−1</tspan><tspan dy="8">]</tspan></text>
<text transform="translate(985,654) rotate(-90)"><tspan font-style="italic">v</tspan><tspan font-size="12" dy="4" font-style="italic">B×(B×V)</tspan><tspan dy="-4"> [10</tspan><tspan font-size="11" dy="-8">6</tspan><tspan dy="8"> m s</tspan><tspan font-size="11" dy="-8">−1</tspan><tspan dy="8">]</tspan></text>
<text transform="translate(697,894) rotate(-90)"><tspan font-style="italic">v</tspan><tspan font-size="12" dy="4" font-style="italic">B×(B×V)</tspan><tspan dy="-4"> [10</tspan><tspan font-size="11" dy="-8">6</tspan><tspan dy="8"> m s</tspan><tspan font-size="11" dy="-8">−1</tspan><tspan dy="8">]</tspan></text>
<text transform="translate(697,1177) rotate(-90)"><tspan font-style="italic">v</tspan><tspan font-size="12" dy="4" font-style="italic">B×V</tspan><tspan dy="-4"> [10</tspan><tspan font-size="11" dy="-8">6</tspan><tspan dy="8"> m s</tspan><tspan font-size="11" dy="-8">−1</tspan><tspan dy="8">]</tspan></text>
<text transform="translate(985,1177) rotate(-90)"><tspan font-style="italic">v</tspan><tspan font-size="12" dy="4" font-style="italic">B×(B×V)</tspan><tspan dy="-4"> [10</tspan><tspan font-size="11" dy="-8">6</tspan><tspan dy="8"> m s</tspan><tspan font-size="11" dy="-8">−1</tspan><tspan dy="8">]</tspan></text>
<text transform="translate(697,1418) rotate(-90)"><tspan font-style="italic">v</tspan><tspan font-size="12" dy="4" font-style="italic">B×(B×V)</tspan><tspan dy="-4"> [10</tspan><tspan font-size="11" dy="-8">6</tspan><tspan dy="8"> m s</tspan><tspan font-size="11" dy="-8">−1</tspan><tspan dy="8">]</tspan></text>
</g>
</svg>
</body></html>
